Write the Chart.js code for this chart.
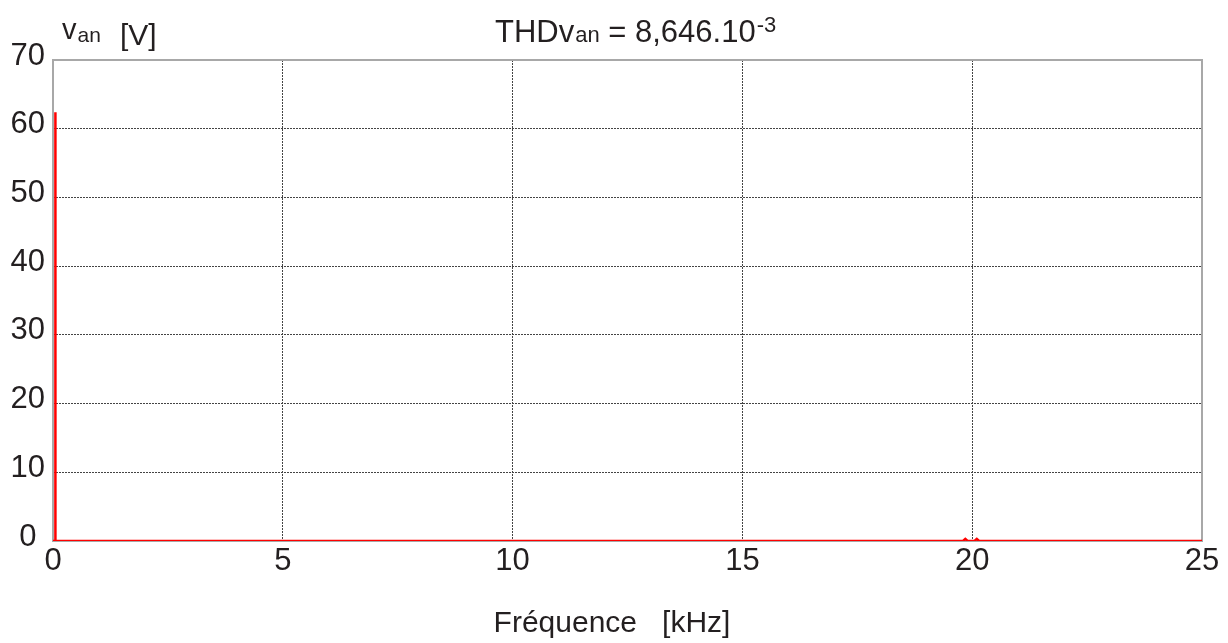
<!DOCTYPE html>
<html>
<head>
<meta charset="utf-8">
<script src="https://cdn.jsdelivr.net/npm/chart.js@4"></script>
<style>
html,body{margin:0;padding:0;background:#fff;}
#wrap{width:1228px;height:643px;}
</style>
</head>
<body>
<div id="wrap"><canvas id="c" width="1228" height="643"></canvas></div>
<script>
// Spectrum of v_an (frequency in kHz, amplitude in V)
const freqKHz = [0, 0.045, 0.05, 0.055, 19.80, 19.85, 19.90, 19.95, 20.05, 20.10, 20.15, 20.20, 25];
const ampV    = [0, 0,     62.4, 0,     0,     0.30,  0,     0,     0,     0.30,  0,     0,     0];
const xTicks = [0, 5, 10, 15, 20, 25];
const yTicks = [0, 10, 20, 30, 40, 50, 60, 70];
const yLabel = {main: 'v', sub: 'an', unit: '[V]'};
const title = {pre: 'THDv', sub: 'an', mid: ' = 8,646.10', sup: '-3'};
const xLabel = 'Fréquence   [kHz]';

const FONT = '"Liberation Sans", Arial, Helvetica, sans-serif';
const TXT = '#231f20';

const points = freqKHz.map((f, i) => ({x: f, y: ampV[i]}));

const textPlugin = {
  id: 'texts',
  beforeDatasetsDraw(chart) {
    const {ctx, chartArea: a} = chart;
    ctx.save();
    ctx.strokeStyle = '#a8a8a8';
    ctx.lineWidth = 2;
    ctx.strokeRect(a.left, a.top, a.right - a.left, a.bottom - a.top);
    ctx.restore();
  },
  afterDraw(chart) {
    const {ctx} = chart;
    ctx.save();
    ctx.fillStyle = TXT;
    ctx.textBaseline = 'alphabetic';
    ctx.textAlign = 'left';
    // y-axis label
    ctx.font = '29px ' + FONT;
    ctx.fillText(yLabel.main, 62, 39);
    let w = ctx.measureText(yLabel.main).width;
    ctx.font = '21px ' + FONT;
    ctx.fillText(yLabel.sub, 62 + w + 1, 42);
    ctx.font = '30px ' + FONT;
    ctx.fillText(yLabel.unit, 120, 45);
    // title
    let x = 495;
    ctx.font = '31px ' + FONT;
    ctx.fillText(title.pre, x, 42);
    x += ctx.measureText(title.pre).width;
    ctx.font = '22px ' + FONT;
    ctx.fillText(title.sub, x + 1, 42);
    x += ctx.measureText(title.sub).width + 1;
    ctx.font = '31px ' + FONT;
    ctx.fillText(title.mid, x, 42);
    x += ctx.measureText(title.mid).width;
    ctx.font = '22px ' + FONT;
    ctx.fillText(title.sup, x + 1, 32);
    // x-axis label
    ctx.font = '30px ' + FONT;
    ctx.textAlign = 'center';
    ctx.fillText(xLabel, 612, 632);
    ctx.restore();
  }
};

new Chart(document.getElementById('c'), {
  type: 'scatter',
  data: {
    datasets: [{
      data: points,
      showLine: true,
      borderColor: '#ff0000',
      borderWidth: 2.5,
      pointRadius: 0,
      tension: 0
    }]
  },
  options: {
    responsive: false,
    animation: false,
    layout: {padding: {top: 60, right: 26, left: 0, bottom: 0}},
    plugins: {legend: {display: false}, tooltip: {enabled: false}, title: {display: false}},
    scales: {
      x: {
        type: 'linear', min: 0, max: 25,
        afterBuildTicks(s) { s.ticks = xTicks.map(v => ({value: v})); },
        afterFit(s) { s.height = 102; },
        border: {display: false, dash: [2, 1]},
        grid: {
          drawTicks: false,
          color: c => (c.tick && (c.tick.value === 0 || c.tick.value === 25)) ? 'rgba(0,0,0,0)' : '#444',
          lineWidth: 1
        },
        ticks: {color: TXT, font: {family: FONT, size: 31}, padding: 2, maxRotation: 0, autoSkip: false}
      },
      y: {
        type: 'linear', min: 0, max: 70,
        afterBuildTicks(s) { s.ticks = yTicks.map(v => ({value: v})); },
        afterFit(s) { s.width = 53; },
        border: {display: false, dash: [2, 1]},
        grid: {
          drawTicks: false,
          color: c => (c.tick && (c.tick.value === 0 || c.tick.value === 70)) ? 'rgba(0,0,0,0)' : '#444',
          lineWidth: 1
        },
        ticks: {color: TXT, font: {family: FONT, size: 31}, padding: 8, crossAlign: 'center', labelOffset: -4, autoSkip: false}
      }
    }
  },
  plugins: [textPlugin]
});
</script>
</body>
</html>
